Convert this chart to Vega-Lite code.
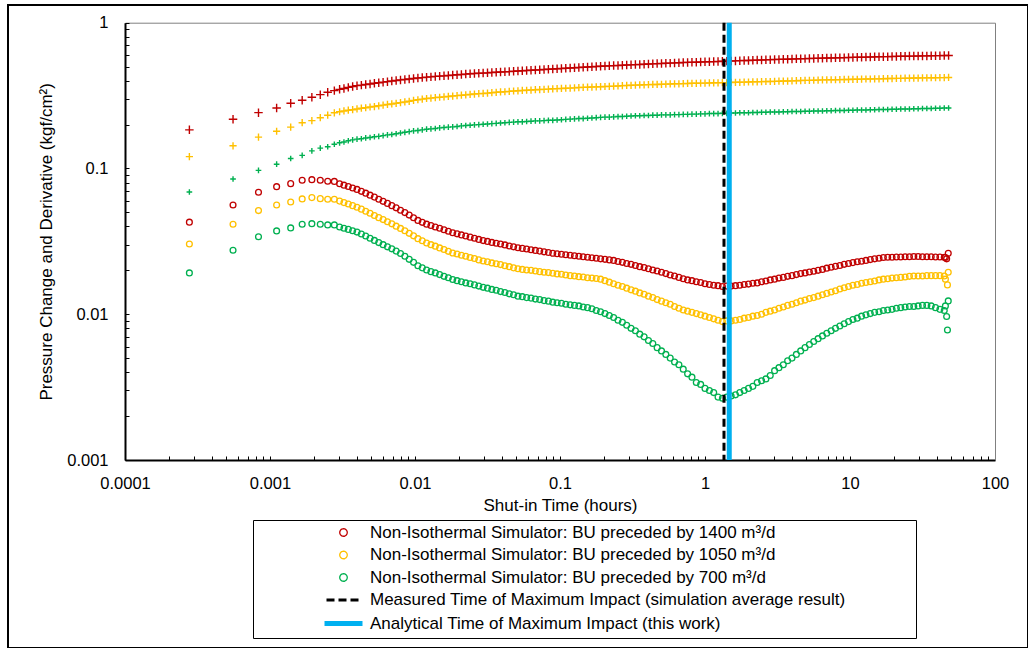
{
  "$schema": "https://vega.github.io/schema/vega-lite/v6.json",
  "width": 1020,
  "height": 643,
  "autosize": {"type": "none"},
  "padding": {"left": 8, "top": 5, "right": 0, "bottom": 0},
  "background": "white",
  "config": {
    "font": "Liberation Sans",
    "view": {"stroke": "black", "strokeWidth": 2, "fill": "white"},
    "axis": {"labelColor": "black", "titleColor": "black", "grid": false, "labelFont": "Liberation Sans", "titleFont": "Liberation Sans"}
  },
  "datasets": {
    "pressure": [
      {"t":0.000278,"q1400":0.184,"q1050":0.1205,"q700":0.069},
      {"t":0.000556,"q1400":0.2175,"q1050":0.143,"q700":0.0847},
      {"t":0.000833,"q1400":0.2415,"q1050":0.164,"q700":0.097},
      {"t":0.001111,"q1400":0.26,"q1050":0.18,"q700":0.107},
      {"t":0.001389,"q1400":0.28,"q1050":0.192,"q700":0.117},
      {"t":0.001667,"q1400":0.294,"q1050":0.206,"q700":0.123},
      {"t":0.001944,"q1400":0.308,"q1050":0.213,"q700":0.132},
      {"t":0.002222,"q1400":0.321,"q1050":0.223,"q700":0.138},
      {"t":0.0025,"q1400":0.333,"q1050":0.232,"q700":0.141},
      {"t":0.002778,"q1400":0.342,"q1050":0.241,"q700":0.1465},
      {"t":0.00302,"q1400":0.349,"q1050":0.245,"q700":0.150},
      {"t":0.003236,"q1400":0.354,"q1050":0.248,"q700":0.152},
      {"t":0.003467,"q1400":0.360,"q1050":0.251,"q700":0.155},
      {"t":0.003715,"q1400":0.365,"q1050":0.253,"q700":0.157},
      {"t":0.003981,"q1400":0.370,"q1050":0.256,"q700":0.159},
      {"t":0.004266,"q1400":0.373,"q1050":0.259,"q700":0.160},
      {"t":0.004571,"q1400":0.377,"q1050":0.261,"q700":0.162},
      {"t":0.004898,"q1400":0.380,"q1050":0.264,"q700":0.163},
      {"t":0.005248,"q1400":0.384,"q1050":0.266,"q700":0.165},
      {"t":0.005623,"q1400":0.387,"q1050":0.269,"q700":0.166},
      {"t":0.006026,"q1400":0.391,"q1050":0.272,"q700":0.168},
      {"t":0.006457,"q1400":0.394,"q1050":0.275,"q700":0.170},
      {"t":0.006918,"q1400":0.398,"q1050":0.277,"q700":0.171},
      {"t":0.007413,"q1400":0.401,"q1050":0.280,"q700":0.173},
      {"t":0.007943,"q1400":0.405,"q1050":0.283,"q700":0.175},
      {"t":0.008511,"q1400":0.408,"q1050":0.286,"q700":0.177},
      {"t":0.00912,"q1400":0.411,"q1050":0.289,"q700":0.179},
      {"t":0.009772,"q1400":0.414,"q1050":0.293,"q700":0.181},
      {"t":0.01047,"q1400":0.417,"q1050":0.296,"q700":0.182},
      {"t":0.01122,"q1400":0.420,"q1050":0.299,"q700":0.184},
      {"t":0.01202,"q1400":0.423,"q1050":0.302,"q700":0.186},
      {"t":0.01288,"q1400":0.425,"q1050":0.304,"q700":0.187},
      {"t":0.0138,"q1400":0.428,"q1050":0.306,"q700":0.188},
      {"t":0.01479,"q1400":0.430,"q1050":0.308,"q700":0.190},
      {"t":0.01585,"q1400":0.432,"q1050":0.310,"q700":0.191},
      {"t":0.01698,"q1400":0.434,"q1050":0.312,"q700":0.192},
      {"t":0.0182,"q1400":0.437,"q1050":0.314,"q700":0.193},
      {"t":0.0195,"q1400":0.439,"q1050":0.316,"q700":0.194},
      {"t":0.02089,"q1400":0.441,"q1050":0.318,"q700":0.196},
      {"t":0.02239,"q1400":0.444,"q1050":0.320,"q700":0.197},
      {"t":0.02399,"q1400":0.446,"q1050":0.322,"q700":0.198},
      {"t":0.0257,"q1400":0.448,"q1050":0.324,"q700":0.199},
      {"t":0.02754,"q1400":0.450,"q1050":0.326,"q700":0.200},
      {"t":0.02951,"q1400":0.451,"q1050":0.327,"q700":0.201},
      {"t":0.03162,"q1400":0.453,"q1050":0.329,"q700":0.202},
      {"t":0.03388,"q1400":0.455,"q1050":0.331,"q700":0.203},
      {"t":0.03631,"q1400":0.457,"q1050":0.333,"q700":0.204},
      {"t":0.0389,"q1400":0.459,"q1050":0.335,"q700":0.205},
      {"t":0.04169,"q1400":0.460,"q1050":0.336,"q700":0.206},
      {"t":0.04467,"q1400":0.462,"q1050":0.338,"q700":0.207},
      {"t":0.04786,"q1400":0.464,"q1050":0.340,"q700":0.208},
      {"t":0.05129,"q1400":0.466,"q1050":0.341,"q700":0.209},
      {"t":0.05495,"q1400":0.468,"q1050":0.343,"q700":0.209},
      {"t":0.05888,"q1400":0.470,"q1050":0.344,"q700":0.210},
      {"t":0.0631,"q1400":0.472,"q1050":0.345,"q700":0.211},
      {"t":0.06761,"q1400":0.474,"q1050":0.347,"q700":0.212},
      {"t":0.07244,"q1400":0.475,"q1050":0.348,"q700":0.212},
      {"t":0.07762,"q1400":0.477,"q1050":0.349,"q700":0.213},
      {"t":0.08318,"q1400":0.479,"q1050":0.350,"q700":0.214},
      {"t":0.08913,"q1400":0.481,"q1050":0.352,"q700":0.214},
      {"t":0.0955,"q1400":0.483,"q1050":0.353,"q700":0.215},
      {"t":0.1023,"q1400":0.485,"q1050":0.354,"q700":0.216},
      {"t":0.1096,"q1400":0.487,"q1050":0.355,"q700":0.217},
      {"t":0.1175,"q1400":0.489,"q1050":0.356,"q700":0.218},
      {"t":0.1259,"q1400":0.491,"q1050":0.357,"q700":0.219},
      {"t":0.1349,"q1400":0.493,"q1050":0.359,"q700":0.220},
      {"t":0.1445,"q1400":0.495,"q1050":0.360,"q700":0.220},
      {"t":0.1549,"q1400":0.497,"q1050":0.361,"q700":0.221},
      {"t":0.166,"q1400":0.499,"q1050":0.362,"q700":0.222},
      {"t":0.1778,"q1400":0.501,"q1050":0.363,"q700":0.223},
      {"t":0.1905,"q1400":0.503,"q1050":0.364,"q700":0.224},
      {"t":0.2042,"q1400":0.505,"q1050":0.365,"q700":0.225},
      {"t":0.2188,"q1400":0.506,"q1050":0.366,"q700":0.225},
      {"t":0.2344,"q1400":0.508,"q1050":0.367,"q700":0.226},
      {"t":0.2512,"q1400":0.509,"q1050":0.368,"q700":0.227},
      {"t":0.2692,"q1400":0.511,"q1050":0.370,"q700":0.227},
      {"t":0.2884,"q1400":0.513,"q1050":0.371,"q700":0.228},
      {"t":0.309,"q1400":0.514,"q1050":0.372,"q700":0.229},
      {"t":0.3311,"q1400":0.516,"q1050":0.373,"q700":0.230},
      {"t":0.3548,"q1400":0.517,"q1050":0.374,"q700":0.230},
      {"t":0.3802,"q1400":0.519,"q1050":0.375,"q700":0.231},
      {"t":0.4074,"q1400":0.521,"q1050":0.376,"q700":0.231},
      {"t":0.4365,"q1400":0.522,"q1050":0.377,"q700":0.232},
      {"t":0.4677,"q1400":0.524,"q1050":0.377,"q700":0.232},
      {"t":0.5012,"q1400":0.525,"q1050":0.378,"q700":0.233},
      {"t":0.537,"q1400":0.527,"q1050":0.379,"q700":0.233},
      {"t":0.5754,"q1400":0.528,"q1050":0.380,"q700":0.233},
      {"t":0.6166,"q1400":0.530,"q1050":0.381,"q700":0.234},
      {"t":0.6607,"q1400":0.531,"q1050":0.381,"q700":0.234},
      {"t":0.7079,"q1400":0.533,"q1050":0.382,"q700":0.235},
      {"t":0.7586,"q1400":0.534,"q1050":0.383,"q700":0.235},
      {"t":0.8128,"q1400":0.535,"q1050":0.384,"q700":0.236},
      {"t":0.871,"q1400":0.536,"q1050":0.384,"q700":0.236},
      {"t":0.9333,"q1400":0.538,"q1050":0.385,"q700":0.237},
      {"t":1.0,"q1400":0.539,"q1050":0.385,"q700":0.237},
      {"t":1.072,"q1400":0.540,"q1050":0.386,"q700":0.238},
      {"t":1.148,"q1400":0.541,"q1050":0.387,"q700":0.238},
      {"t":1.23,"q1400":0.542,"q1050":0.387,"q700":0.238},
      {"t":1.318,"q1400":0.544,"q1050":0.388,"q700":0.239},
      {"t":1.413,"q1400":0.545,"q1050":0.388,"q700":0.239},
      {"t":1.514,"q1400":0.546,"q1050":0.389,"q700":0.240},
      {"t":1.622,"q1400":0.547,"q1050":0.390,"q700":0.240},
      {"t":1.738,"q1400":0.549,"q1050":0.390,"q700":0.241},
      {"t":1.862,"q1400":0.550,"q1050":0.391,"q700":0.241},
      {"t":1.995,"q1400":0.551,"q1050":0.392,"q700":0.241},
      {"t":2.138,"q1400":0.553,"q1050":0.393,"q700":0.242},
      {"t":2.291,"q1400":0.554,"q1050":0.393,"q700":0.242},
      {"t":2.455,"q1400":0.555,"q1050":0.394,"q700":0.243},
      {"t":2.63,"q1400":0.556,"q1050":0.395,"q700":0.243},
      {"t":2.818,"q1400":0.558,"q1050":0.395,"q700":0.244},
      {"t":3.02,"q1400":0.559,"q1050":0.396,"q700":0.244},
      {"t":3.236,"q1400":0.560,"q1050":0.397,"q700":0.244},
      {"t":3.467,"q1400":0.561,"q1050":0.398,"q700":0.245},
      {"t":3.715,"q1400":0.562,"q1050":0.398,"q700":0.245},
      {"t":3.981,"q1400":0.563,"q1050":0.399,"q700":0.246},
      {"t":4.266,"q1400":0.565,"q1050":0.400,"q700":0.246},
      {"t":4.571,"q1400":0.566,"q1050":0.401,"q700":0.246},
      {"t":4.898,"q1400":0.567,"q1050":0.402,"q700":0.247},
      {"t":5.248,"q1400":0.568,"q1050":0.402,"q700":0.247},
      {"t":5.623,"q1400":0.569,"q1050":0.403,"q700":0.248},
      {"t":6.026,"q1400":0.570,"q1050":0.404,"q700":0.248},
      {"t":6.457,"q1400":0.571,"q1050":0.405,"q700":0.248},
      {"t":6.918,"q1400":0.572,"q1050":0.405,"q700":0.249},
      {"t":7.413,"q1400":0.573,"q1050":0.406,"q700":0.249},
      {"t":7.943,"q1400":0.574,"q1050":0.406,"q700":0.250},
      {"t":8.511,"q1400":0.575,"q1050":0.407,"q700":0.250},
      {"t":9.12,"q1400":0.576,"q1050":0.408,"q700":0.250},
      {"t":9.772,"q1400":0.577,"q1050":0.408,"q700":0.251},
      {"t":10.47,"q1400":0.578,"q1050":0.409,"q700":0.251},
      {"t":11.22,"q1400":0.579,"q1050":0.409,"q700":0.252},
      {"t":12.02,"q1400":0.580,"q1050":0.410,"q700":0.252},
      {"t":12.88,"q1400":0.581,"q1050":0.411,"q700":0.252},
      {"t":13.8,"q1400":0.582,"q1050":0.411,"q700":0.253},
      {"t":14.79,"q1400":0.583,"q1050":0.412,"q700":0.253},
      {"t":15.85,"q1400":0.584,"q1050":0.412,"q700":0.254},
      {"t":16.98,"q1400":0.585,"q1050":0.413,"q700":0.254},
      {"t":18.2,"q1400":0.585,"q1050":0.414,"q700":0.254},
      {"t":19.5,"q1400":0.586,"q1050":0.414,"q700":0.255},
      {"t":20.89,"q1400":0.587,"q1050":0.415,"q700":0.255},
      {"t":22.39,"q1400":0.588,"q1050":0.415,"q700":0.256},
      {"t":23.99,"q1400":0.589,"q1050":0.416,"q700":0.256},
      {"t":25.7,"q1400":0.590,"q1050":0.416,"q700":0.256},
      {"t":27.54,"q1400":0.590,"q1050":0.417,"q700":0.257},
      {"t":29.51,"q1400":0.591,"q1050":0.417,"q700":0.257},
      {"t":31.62,"q1400":0.592,"q1050":0.418,"q700":0.258},
      {"t":33.88,"q1400":0.592,"q1050":0.418,"q700":0.258},
      {"t":36.31,"q1400":0.593,"q1050":0.419,"q700":0.258},
      {"t":38.9,"q1400":0.594,"q1050":0.419,"q700":0.259},
      {"t":41.69,"q1400":0.594,"q1050":0.420,"q700":0.259},
      {"t":44.67,"q1400":0.595,"q1050":0.420,"q700":0.260},
      {"t":47.86,"q1400":0.596,"q1050":0.421,"q700":0.260}
    ],
    "derivative": [
      {"t":0.000278,"q1400":0.0428,"q1050":0.0303,"q700":0.0192},
      {"t":0.000556,"q1400":0.0562,"q1050":0.0414,"q700":0.0275},
      {"t":0.000833,"q1400":0.0687,"q1050":0.0514,"q700":0.034},
      {"t":0.001111,"q1400":0.075,"q1050":0.0562,"q700":0.0373},
      {"t":0.001389,"q1400":0.0787,"q1050":0.0589,"q700":0.0391},
      {"t":0.001667,"q1400":0.083,"q1050":0.0618,"q700":0.0414},
      {"t":0.001944,"q1400":0.0838,"q1050":0.0631,"q700":0.0418},
      {"t":0.002222,"q1400":0.083,"q1050":0.0621,"q700":0.0414},
      {"t":0.0025,"q1400":0.0817,"q1050":0.0615,"q700":0.041},
      {"t":0.002778,"q1400":0.0815,"q1050":0.0615,"q700":0.041},
      {"t":0.00302,"q1400":0.0785,"q1050":0.0597,"q700":0.0397},
      {"t":0.003236,"q1400":0.0768,"q1050":0.0583,"q700":0.0389},
      {"t":0.003467,"q1400":0.0752,"q1050":0.0570,"q700":0.0382},
      {"t":0.003715,"q1400":0.0735,"q1050":0.0556,"q700":0.0374},
      {"t":0.003981,"q1400":0.0718,"q1050":0.0542,"q700":0.0366},
      {"t":0.004266,"q1400":0.0697,"q1050":0.0526,"q700":0.0355},
      {"t":0.004571,"q1400":0.0677,"q1050":0.0509,"q700":0.0344},
      {"t":0.004898,"q1400":0.0656,"q1050":0.0493,"q700":0.0332},
      {"t":0.005248,"q1400":0.0636,"q1050":0.0476,"q700":0.0321},
      {"t":0.005623,"q1400":0.0615,"q1050":0.0460,"q700":0.0310},
      {"t":0.006026,"q1400":0.0595,"q1050":0.0446,"q700":0.0300},
      {"t":0.006457,"q1400":0.0576,"q1050":0.0431,"q700":0.0290},
      {"t":0.006918,"q1400":0.0556,"q1050":0.0417,"q700":0.0281},
      {"t":0.007413,"q1400":0.0537,"q1050":0.0402,"q700":0.0271},
      {"t":0.007943,"q1400":0.0517,"q1050":0.0388,"q700":0.0261},
      {"t":0.008511,"q1400":0.0498,"q1050":0.0374,"q700":0.0250},
      {"t":0.00912,"q1400":0.0479,"q1050":0.0359,"q700":0.0238},
      {"t":0.009772,"q1400":0.0459,"q1050":0.0345,"q700":0.0227},
      {"t":0.01047,"q1400":0.0440,"q1050":0.0330,"q700":0.0215},
      {"t":0.01122,"q1400":0.0427,"q1050":0.0319,"q700":0.0208},
      {"t":0.01202,"q1400":0.0415,"q1050":0.0308,"q700":0.0201},
      {"t":0.01288,"q1400":0.0406,"q1050":0.0300,"q700":0.0196},
      {"t":0.0138,"q1400":0.0397,"q1050":0.0293,"q700":0.0192},
      {"t":0.01479,"q1400":0.0389,"q1050":0.0285,"q700":0.0187},
      {"t":0.01585,"q1400":0.0380,"q1050":0.0278,"q700":0.0182},
      {"t":0.01698,"q1400":0.0371,"q1050":0.0270,"q700":0.0178},
      {"t":0.0182,"q1400":0.0362,"q1050":0.0263,"q700":0.0173},
      {"t":0.0195,"q1400":0.0356,"q1050":0.0259,"q700":0.0170},
      {"t":0.02089,"q1400":0.0350,"q1050":0.0254,"q700":0.0167},
      {"t":0.02239,"q1400":0.0344,"q1050":0.0250,"q700":0.0164},
      {"t":0.02399,"q1400":0.0338,"q1050":0.0245,"q700":0.0162},
      {"t":0.0257,"q1400":0.0332,"q1050":0.0241,"q700":0.0159},
      {"t":0.02754,"q1400":0.0326,"q1050":0.0236,"q700":0.0156},
      {"t":0.02951,"q1400":0.0320,"q1050":0.0232,"q700":0.0153},
      {"t":0.03162,"q1400":0.0316,"q1050":0.0229,"q700":0.0151},
      {"t":0.03388,"q1400":0.0311,"q1050":0.0225,"q700":0.0148},
      {"t":0.03631,"q1400":0.0307,"q1050":0.0222,"q700":0.0146},
      {"t":0.0389,"q1400":0.0303,"q1050":0.0219,"q700":0.0143},
      {"t":0.04169,"q1400":0.0299,"q1050":0.0215,"q700":0.0141},
      {"t":0.04467,"q1400":0.0294,"q1050":0.0212,"q700":0.0138},
      {"t":0.04786,"q1400":0.0290,"q1050":0.0208,"q700":0.0136},
      {"t":0.05129,"q1400":0.0286,"q1050":0.0205,"q700":0.0133},
      {"t":0.05495,"q1400":0.0283,"q1050":0.0203,"q700":0.0132},
      {"t":0.05888,"q1400":0.0280,"q1050":0.0201,"q700":0.0130},
      {"t":0.0631,"q1400":0.0277,"q1050":0.0200,"q700":0.0129},
      {"t":0.06761,"q1400":0.0274,"q1050":0.0198,"q700":0.0127},
      {"t":0.07244,"q1400":0.0271,"q1050":0.0196,"q700":0.0126},
      {"t":0.07762,"q1400":0.0268,"q1050":0.0194,"q700":0.0124},
      {"t":0.08318,"q1400":0.0265,"q1050":0.0193,"q700":0.0123},
      {"t":0.08913,"q1400":0.0262,"q1050":0.0191,"q700":0.0121},
      {"t":0.0955,"q1400":0.0260,"q1050":0.0189,"q700":0.0120},
      {"t":0.1023,"q1400":0.0258,"q1050":0.0188,"q700":0.0119},
      {"t":0.1096,"q1400":0.0256,"q1050":0.0186,"q700":0.0117},
      {"t":0.1175,"q1400":0.0254,"q1050":0.0184,"q700":0.0116},
      {"t":0.1259,"q1400":0.0252,"q1050":0.0183,"q700":0.0115},
      {"t":0.1349,"q1400":0.0250,"q1050":0.0181,"q700":0.0114},
      {"t":0.1445,"q1400":0.0248,"q1050":0.0180,"q700":0.0112},
      {"t":0.1549,"q1400":0.0246,"q1050":0.0178,"q700":0.0111},
      {"t":0.166,"q1400":0.0244,"q1050":0.0177,"q700":0.0109},
      {"t":0.1778,"q1400":0.0242,"q1050":0.0176,"q700":0.0106},
      {"t":0.1905,"q1400":0.0240,"q1050":0.0174,"q700":0.0104},
      {"t":0.2042,"q1400":0.0238,"q1050":0.0170,"q700":0.0101},
      {"t":0.2188,"q1400":0.0236,"q1050":0.0166,"q700":0.0098},
      {"t":0.2344,"q1400":0.0234,"q1050":0.0162,"q700":0.0095},
      {"t":0.2512,"q1400":0.0230,"q1050":0.0158,"q700":0.0091},
      {"t":0.2692,"q1400":0.0227,"q1050":0.0155,"q700":0.0088},
      {"t":0.2884,"q1400":0.0223,"q1050":0.0151,"q700":0.0084},
      {"t":0.309,"q1400":0.0220,"q1050":0.0147,"q700":0.0080},
      {"t":0.3311,"q1400":0.0216,"q1050":0.0144,"q700":0.0077},
      {"t":0.3548,"q1400":0.0212,"q1050":0.0140,"q700":0.0073},
      {"t":0.3802,"q1400":0.0209,"q1050":0.0137,"q700":0.0070},
      {"t":0.4074,"q1400":0.0205,"q1050":0.0133,"q700":0.0066},
      {"t":0.4365,"q1400":0.0201,"q1050":0.0130,"q700":0.0063},
      {"t":0.4677,"q1400":0.0198,"q1050":0.0126,"q700":0.0059},
      {"t":0.5012,"q1400":0.0194,"q1050":0.0123,"q700":0.0056},
      {"t":0.537,"q1400":0.0190,"q1050":0.0120,"q700":0.0053},
      {"t":0.5754,"q1400":0.0186,"q1050":0.0117,"q700":0.0050},
      {"t":0.6166,"q1400":0.0183,"q1050":0.0113,"q700":0.0047},
      {"t":0.6607,"q1400":0.0179,"q1050":0.0110,"q700":0.0045},
      {"t":0.7079,"q1400":0.0175,"q1050":0.0107,"q700":0.0042},
      {"t":0.7586,"q1400":0.0172,"q1050":0.0105,"q700":0.0039},
      {"t":0.8128,"q1400":0.0170,"q1050":0.0103,"q700":0.0037},
      {"t":0.871,"q1400":0.0167,"q1050":0.0101,"q700":0.0034},
      {"t":0.9333,"q1400":0.0165,"q1050":0.0099,"q700":0.0033},
      {"t":1.0,"q1400":0.0162,"q1050":0.0097,"q700":0.0031},
      {"t":1.072,"q1400":0.0160,"q1050":0.0095,"q700":0.0030},
      {"t":1.148,"q1400":0.0158,"q1050":0.0093,"q700":0.0029},
      {"t":1.23,"q1400":0.0157,"q1050":0.0091,"q700":0.0027},
      {"t":1.318,"q1400":0.0155,"q1050":0.0089,"q700":0.00265},
      {"t":1.413,"q1400":0.0156,"q1050":0.0090,"q700":0.0027},
      {"t":1.514,"q1400":0.0156,"q1050":0.0090,"q700":0.00275},
      {"t":1.622,"q1400":0.0157,"q1050":0.0091,"q700":0.0028},
      {"t":1.738,"q1400":0.0158,"q1050":0.0092,"q700":0.0029},
      {"t":1.862,"q1400":0.0160,"q1050":0.0094,"q700":0.0030},
      {"t":1.995,"q1400":0.0161,"q1050":0.0095,"q700":0.0031},
      {"t":2.138,"q1400":0.0163,"q1050":0.0097,"q700":0.0032},
      {"t":2.291,"q1400":0.0164,"q1050":0.0098,"q700":0.0034},
      {"t":2.455,"q1400":0.0167,"q1050":0.0100,"q700":0.0035},
      {"t":2.63,"q1400":0.0169,"q1050":0.0103,"q700":0.0036},
      {"t":2.818,"q1400":0.0172,"q1050":0.0105,"q700":0.0038},
      {"t":3.02,"q1400":0.0174,"q1050":0.0107,"q700":0.0041},
      {"t":3.236,"q1400":0.0177,"q1050":0.0110,"q700":0.0043},
      {"t":3.467,"q1400":0.0179,"q1050":0.0112,"q700":0.0045},
      {"t":3.715,"q1400":0.0182,"q1050":0.0115,"q700":0.0048},
      {"t":3.981,"q1400":0.0184,"q1050":0.0117,"q700":0.0050},
      {"t":4.266,"q1400":0.0187,"q1050":0.0120,"q700":0.0053},
      {"t":4.571,"q1400":0.0190,"q1050":0.0123,"q700":0.0056},
      {"t":4.898,"q1400":0.0192,"q1050":0.0125,"q700":0.0059},
      {"t":5.248,"q1400":0.0195,"q1050":0.0128,"q700":0.0062},
      {"t":5.623,"q1400":0.0197,"q1050":0.0130,"q700":0.0065},
      {"t":6.026,"q1400":0.0200,"q1050":0.0133,"q700":0.0068},
      {"t":6.457,"q1400":0.0203,"q1050":0.0136,"q700":0.0071},
      {"t":6.918,"q1400":0.0207,"q1050":0.0139,"q700":0.0074},
      {"t":7.413,"q1400":0.0210,"q1050":0.0142,"q700":0.0077},
      {"t":7.943,"q1400":0.0213,"q1050":0.0145,"q700":0.0080},
      {"t":8.511,"q1400":0.0216,"q1050":0.0149,"q700":0.0083},
      {"t":9.12,"q1400":0.0220,"q1050":0.0152,"q700":0.0086},
      {"t":9.772,"q1400":0.0223,"q1050":0.0155,"q700":0.0089},
      {"t":10.47,"q1400":0.0226,"q1050":0.0158,"q700":0.0092},
      {"t":11.22,"q1400":0.0229,"q1050":0.0160,"q700":0.0094},
      {"t":12.02,"q1400":0.0231,"q1050":0.0163,"q700":0.0097},
      {"t":12.88,"q1400":0.0234,"q1050":0.0165,"q700":0.0099},
      {"t":13.8,"q1400":0.0237,"q1050":0.0167,"q700":0.0101},
      {"t":14.79,"q1400":0.0240,"q1050":0.0169,"q700":0.0103},
      {"t":15.85,"q1400":0.0242,"q1050":0.0172,"q700":0.0104},
      {"t":16.98,"q1400":0.0245,"q1050":0.0174,"q700":0.0106},
      {"t":18.2,"q1400":0.0246,"q1050":0.0175,"q700":0.0107},
      {"t":19.5,"q1400":0.0246,"q1050":0.0177,"q700":0.0108},
      {"t":20.89,"q1400":0.0247,"q1050":0.0178,"q700":0.0110},
      {"t":22.39,"q1400":0.0247,"q1050":0.0179,"q700":0.0111},
      {"t":23.99,"q1400":0.0248,"q1050":0.0180,"q700":0.0112},
      {"t":25.7,"q1400":0.0248,"q1050":0.0182,"q700":0.0113},
      {"t":27.54,"q1400":0.0249,"q1050":0.0183,"q700":0.0113},
      {"t":29.51,"q1400":0.0249,"q1050":0.0183,"q700":0.0114},
      {"t":31.62,"q1400":0.0248,"q1050":0.0183,"q700":0.0115},
      {"t":33.88,"q1400":0.0248,"q1050":0.0184,"q700":0.0115},
      {"t":36.31,"q1400":0.0248,"q1050":0.0184,"q700":0.0114},
      {"t":38.9,"q1400":0.0247,"q1050":0.0184,"q700":0.0111},
      {"t":41.69,"q1400":0.0247,"q1050":0.0184,"q700":0.0108},
      {"t":44.67,"q1400":0.0246,"q1050":0.0183,"q700":0.0106},
      {"t":45.5,"q1400":0.0245,"q1050":0.0174,"q700":0.0114},
      {"t":46.4,"q1400":0.0240,"q700":0.00964},
      {"t":47.0,"q1050":0.0159,"q700":0.0078},
      {"t":47.6,"q1400":0.0262,"q1050":0.0194,"q700":0.01234}
    ],
    "impact": [
      {"t":1.352,"s":"measured"},
      {"t":1.47,"s":"analytical"}
    ]
  },
  "layer": [
    {
      "data": {"name": "pressure"},
      "transform": [{"fold": ["q1400"], "as": ["s","v"]}, {"filter": "isValid(datum.v)"}],
      "mark": {"type": "point", "shape": "M-1,0H1M0,-1V1", "filled": false, "strokeWidth": 1.4, "size": 72, "opacity": 1},
      "encoding": {
        "x": {
          "field": "t", "type": "quantitative",
          "scale": {"type": "log", "domain": [0.0001, 100], "range": [117, 987]},
          "axis": {
            "orient": "bottom", "offset": -188,
            "values": [0.0001,0.0002,0.0003,0.0004,0.0005,0.0006,0.0007,0.0008,0.0009,0.001,0.002,0.003,0.004,0.005,0.006,0.007,0.008,0.009,0.01,0.02,0.03,0.04,0.05,0.06,0.07,0.08,0.09,0.1,0.2,0.3,0.4,0.5,0.6,0.7,0.8,0.9,1,2,3,4,5,6,7,8,9,10,20,30,40,50,60,70,80,90,100],
            "format": "~g",
            "labelExpr": "indexof([0.0001,0.001,0.01,0.1,1,10,100], datum.value) >= 0 ? datum.label : ''",
            "labelOverlap": false, "labelFlush": false, "labelBound": false,
            "labelFontSize": 16.5, "labelPadding": 19,
            "tickSize": -4, "tickColor": "black", "tickWidth": 1,
            "domainColor": "black", "domainWidth": 2,
            "title": "Shut-in Time (hours)", "titleFontSize": 17, "titleFontWeight": "normal", "titlePadding": 6
          }
        },
        "y": {
          "field": "v", "type": "quantitative",
          "scale": {"type": "log", "domain": [0.001, 1], "range": [455, 17.7]},
          "axis": {
            "orient": "left", "offset": -117,
            "values": [0.001,0.002,0.003,0.004,0.005,0.006,0.007,0.008,0.009,0.01,0.02,0.03,0.04,0.05,0.06,0.07,0.08,0.09,0.1,0.2,0.3,0.4,0.5,0.6,0.7,0.8,0.9,1],
            "format": "~g",
            "labelExpr": "indexof([0.001,0.01,0.1,1], datum.value) >= 0 ? datum.label : ''",
            "labelOverlap": false, "labelFlush": false, "labelBound": false,
            "labelFontSize": 16.5, "labelPadding": 21,
            "tickSize": -4, "tickColor": "black", "tickWidth": 1,
            "domainColor": "black", "domainWidth": 2,
            "title": "Pressure Change and Derivative (kgf/cm²)", "titleFontSize": 17, "titleFontWeight": "normal", "titlePadding": 11
          }
        },
        "color": {
          "field": "s", "type": "nominal",
          "scale": {"domain": ["q1400","q1050","q700","measured","analytical"], "range": ["#C00000","#FFC000","#00B050","#000000","#00B0F0"]},
          "legend": {
            "title": null,
            "orient": "none", "legendX": 245, "legendY": 515,
            "direction": "vertical",
            "padding": 4, "rowPadding": 4.5,
            "strokeColor": "black", "fillColor": "white",
            "labelFontSize": 17, "labelFont": "Liberation Sans", "labelColor": "black", "labelLimit": 900,
            "symbolSize": 100, "symbolOffset": 78, "labelOffset": 18,
            "symbolType": {"expr": "datum.value == 'measured' ? 'M-3.4,0H3.4' : datum.value == 'analytical' ? 'M-3.8,0H3.8' : 'M-0.75,0A0.75,0.75,0,1,0,0.75,0A0.75,0.75,0,1,0,-0.75,0Z'"},
            "symbolStrokeWidth": {"expr": "datum.value == 'analytical' ? 5 : datum.value == 'measured' ? 3 : 1.3"},
            "symbolDash": {"expr": "datum.value == 'measured' ? [8, 4] : [1, 0]"},
            "labelExpr": "datum.value == 'q1400' ? 'Non-Isothermal Simulator: BU preceded by 1400 m³/d' : datum.value == 'q1050' ? 'Non-Isothermal Simulator: BU preceded by 1050 m³/d' : datum.value == 'q700' ? 'Non-Isothermal Simulator: BU preceded by 700 m³/d' : datum.value == 'measured' ? 'Measured Time of Maximum Impact (simulation average result)              \u200b' : 'Analytical Time of Maximum Impact (this work)'"
          }
        }
      }
    },
    {
      "data": {"name": "pressure"},
      "transform": [{"fold": ["q1050"], "as": ["s","v"]}, {"filter": "isValid(datum.v)"}],
      "mark": {"type": "point", "shape": "M-1,0H1M0,-1V1", "filled": false, "strokeWidth": 1.4, "size": 52, "opacity": 1},
      "encoding": {
        "x": {"field": "t", "type": "quantitative", "axis": null},
        "y": {"field": "v", "type": "quantitative", "axis": null},
        "color": {"field": "s", "type": "nominal"}
      }
    },
    {
      "data": {"name": "pressure"},
      "transform": [{"fold": ["q700"], "as": ["s","v"]}, {"filter": "isValid(datum.v)"}],
      "mark": {"type": "point", "shape": "M-1,0H1M0,-1V1", "filled": false, "strokeWidth": 1.4, "size": 32, "opacity": 1},
      "encoding": {
        "x": {"field": "t", "type": "quantitative", "axis": null},
        "y": {"field": "v", "type": "quantitative", "axis": null},
        "color": {"field": "s", "type": "nominal"}
      }
    },
    {
      "data": {"name": "derivative"},
      "transform": [{"fold": ["q1400","q1050","q700"], "as": ["s","v"]}, {"filter": "isValid(datum.v)"}],
      "mark": {"type": "point", "shape": "circle", "filled": false, "strokeWidth": 1.3, "size": 34, "opacity": 1},
      "encoding": {
        "x": {"field": "t", "type": "quantitative", "axis": {"orient": "top", "offset": -17.7, "ticks": false, "labels": false, "title": null, "domainColor": "#808080", "domainWidth": 1}},
        "y": {"field": "v", "type": "quantitative", "axis": {"orient": "right", "offset": -33, "ticks": false, "labels": false, "title": null, "domainColor": "#808080", "domainWidth": 1}},
        "color": {"field": "s", "type": "nominal"}
      }
    },
    {
      "data": {"name": "impact"},
      "transform": [{"filter": "datum.s == 'measured'"}],
      "mark": {"type": "rule", "strokeWidth": 3, "strokeDash": [8, 4]},
      "encoding": {
        "x": {"field": "t", "type": "quantitative", "axis": null},
        "y": {"datum": 1, "axis": null},
        "y2": {"datum": 0.001},
        "color": {"field": "s", "type": "nominal"}
      }
    },
    {
      "data": {"name": "impact"},
      "transform": [{"filter": "datum.s == 'analytical'"}],
      "mark": {"type": "rule", "strokeWidth": 5},
      "encoding": {
        "x": {"field": "t", "type": "quantitative", "axis": null},
        "y": {"datum": 1, "axis": null},
        "y2": {"datum": 0.001},
        "color": {"field": "s", "type": "nominal"}
      }
    }
  ],
  "resolve": {"axis": {"x": "independent", "y": "independent"}}
}
